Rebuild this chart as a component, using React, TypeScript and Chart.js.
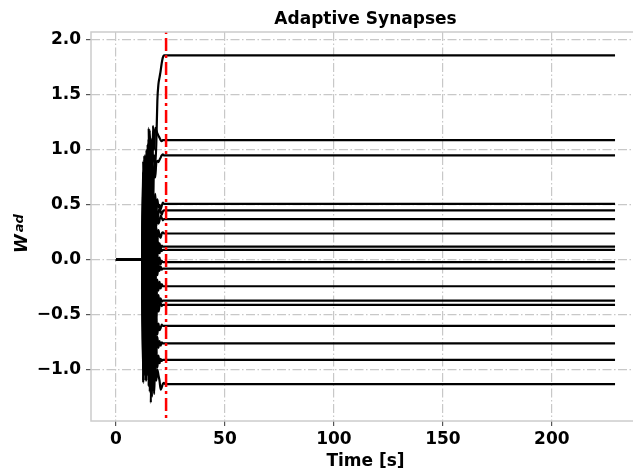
import React, { useEffect, useRef } from "react";
import { Chart, registerables } from "chart.js";

Chart.register(...registerables);

// time axis samples [s]
const times = [0, 12, 12.5, 13, 13.5, 14, 14.5, 15, 15.5, 16, 16.5, 17, 17.5, 18, 18.5, 19, 19.5, 20, 20.5, 21, 21.5, 22, 22.5, 23, 229];

// adaptive synapse weights W^ad (one array per synapse, sampled at `times`)
const w01 = [0, 0, 0.35, -0.45, 0.75, -0.1, 1.05, 0.55, 1.18, 0.85, 1.1, 0.9, 0.95, 0.85, 1.05, 1.45, 1.6, 1.66, 1.72, 1.79, 1.84, 1.86, 1.86, 1.86, 1.86];
const w02 = [0, 0, -0.5, 0.65, -0.75, 0.95, -0.2, 1.2, 0.3, 1.05, 0.65, 1.22, 1.0, 1.2, 1.18, 1.15, 1.13, 1.11, 1.09, 1.08, 1.09, 1.09, 1.09, 1.09, 1.09];
const w03 = [0, 0, 0.55, -0.7, 0.9, -0.45, 0.7, -0.15, 1.0, 0.25, 0.85, 0.45, 0.9, 0.75, 0.88, 0.9, 0.89, 0.91, 0.93, 0.95, 0.96, 0.95, 0.95, 0.95, 0.95];
const w04 = [0, 0, -0.8, 0.45, -1.0, 0.8, -0.6, 0.55, -0.3, 0.7, 0.1, 0.65, 0.3, 0.6, 0.45, 0.55, 0.48, 0.5, 0.46, 0.49, 0.52, 0.51, 0.51, 0.51, 0.51];
const w05 = [0, 0, 0.7, -0.9, 0.5, -0.3, 0.95, -0.55, 0.6, -0.1, 0.7, 0.2, 0.55, 0.3, 0.5, 0.38, 0.42, 0.47, 0.44, 0.41, 0.44, 0.45, 0.45, 0.45, 0.45];
const w06 = [0, 0, -0.3, 0.85, -0.6, 0.4, -0.9, 0.75, -0.4, 0.5, 0.0, 0.6, 0.2, 0.45, 0.3, 0.42, 0.33, 0.36, 0.4, 0.38, 0.36, 0.37, 0.37, 0.37, 0.37];
const w07 = [0, 0, 0.9, -0.35, 0.65, -0.85, 0.3, -0.6, 0.7, -0.2, 0.45, -0.05, 0.35, 0.1, 0.3, 0.18, 0.27, 0.22, 0.2, 0.24, 0.25, 0.24, 0.24, 0.24, 0.24];
const w08 = [0, 0, -0.6, 0.3, -0.95, 0.6, -0.4, 0.9, -0.7, 0.35, -0.3, 0.4, -0.1, 0.25, 0.05, 0.2, 0.09, 0.15, 0.1, 0.13, 0.12, 0.12, 0.12, 0.12, 0.12];
const w09 = [0, 0, 0.45, -1.05, 0.2, -0.5, 0.8, -0.9, 0.4, -0.55, 0.55, -0.2, 0.3, -0.05, 0.18, 0.04, 0.12, 0.06, 0.1, 0.08, 0.09, 0.09, 0.09, 0.09, 0.09];
const w10 = [0, 0, -1.0, 0.6, -0.25, 0.95, -0.75, 0.35, -1.1, 0.6, -0.6, 0.3, -0.3, 0.15, -0.12, 0.05, -0.06, 0.02, -0.04, -0.01, -0.02, -0.02, -0.02, -0.02, -0.02];
const w11 = [0, 0, 0.25, -0.55, 0.95, -1.1, 0.5, -0.35, 0.85, -0.9, 0.3, -0.45, 0.1, -0.25, 0.0, -0.14, -0.05, -0.1, -0.06, -0.09, -0.08, -0.08, -0.08, -0.08, -0.08];
const w12 = [0, 0, -0.4, 0.95, -1.1, 0.35, -0.2, 1.1, -0.85, 0.2, -1.0, 0.1, -0.5, -0.05, -0.35, -0.18, -0.28, -0.2, -0.26, -0.22, -0.24, -0.24, -0.24, -0.24, -0.24];
const w13 = [0, 0, 0.6, -0.2, 0.4, -0.95, 0.85, -1.15, 0.15, -0.7, 0.45, -0.95, -0.1, -0.6, -0.25, -0.45, -0.32, -0.4, -0.35, -0.38, -0.37, -0.37, -0.37, -0.37, -0.37];
const w14 = [0, 0, -1.1, 0.15, -0.8, 0.55, -1.05, 0.25, -0.95, 0.75, -1.2, -0.1, -0.75, -0.3, -0.55, -0.38, -0.47, -0.42, -0.39, -0.42, -0.41, -0.41, -0.41, -0.41, -0.41];
const w15 = [0, 0, 0.1, -0.85, 0.7, -0.6, 0.2, -1.0, 0.55, -1.15, 0.0, -0.9, -0.35, -0.8, -0.5, -0.68, -0.58, -0.64, -0.62, -0.59, -0.6, -0.6, -0.6, -0.6, -0.6];
const w16 = [0, 0, -0.75, 0.05, -0.5, 1.0, -0.95, 0.45, -1.15, -0.2, -1.25, -0.45, -0.95, -0.6, -0.85, -0.7, -0.8, -0.74, -0.78, -0.75, -0.76, -0.76, -0.76, -0.76, -0.76];
const w17 = [0, 0, 0.8, -0.65, 0.1, -1.05, 0.6, -0.8, -0.25, -1.3, -0.4, -1.2, -0.6, -1.05, -0.8, -0.98, -0.87, -0.94, -0.9, -0.92, -0.91, -0.91, -0.91, -0.91, -0.91];
const w18 = [0, 0, -1.12, 0.5, -1.05, 0.2, -0.9, -0.3, -1.2, -0.6, -1.05, -0.85, -1.22, -0.95, -1.1, -1.0, -1.05, -1.1, -1.18, -1.16, -1.13, -1.12, -1.13, -1.13, -1.13];

const synapses = [w01, w02, w03, w04, w05, w06, w07, w08, w09, w10, w11, w12, w13, w14, w15, w16, w17, w18];

// moment the weights are frozen (red dash-dot marker) [s]
const convergenceTime = 23;

const xTicks = [0, 50, 100, 150, 200];
const xTickLabels = ["0", "50", "100", "150", "200"];
const yTicks = [-1, -0.5, 0, 0.5, 1, 1.5, 2];
const yTickLabels = ["\u22121.0", "\u22120.5", "0.0", "0.5", "1.0", "1.5", "2.0"];

const xMin = -11.45;
const xMax = 240.45;
const yMin = -1.466;
const yMax = 2.073;

const chartTitle = "Adaptive Synapses";
const xLabel = "Time [s]";
const yLabelMain = "W";
const yLabelSup = "ad";

const FONT = '"DejaVu Sans", sans-serif';

const decorPlugin = {
  id: "decor",
  afterDatasetsDraw(chart: any) {
    const { ctx, chartArea: a } = chart;
    ctx.save();
    ctx.strokeStyle = "#cccccc";
    ctx.lineWidth = 1.5;
    ctx.strokeRect(a.left, a.top, a.right - a.left, a.bottom - a.top);
    ctx.restore();
  },
  afterDraw(chart: any) {
    const { ctx, chartArea: a } = chart;
    const cx = (a.left + a.right) / 2;
    ctx.save();
    ctx.fillStyle = "#000";
    ctx.textAlign = "center";
    ctx.textBaseline = "alphabetic";
    ctx.font = `bold 17px ${FONT}`;
    ctx.fillText(chartTitle, cx, 23.5);
    ctx.fillText(xLabel, cx, 465.5);
    ctx.translate(27, 253);
    ctx.rotate(-Math.PI / 2);
    ctx.textAlign = "left";
    ctx.font = `italic bold 17px ${FONT}`;
    ctx.fillText(yLabelMain, 0, 0);
    const w = ctx.measureText(yLabelMain).width;
    ctx.font = `italic bold 13px ${FONT}`;
    ctx.fillText(yLabelSup, w + 2, -4);
    ctx.restore();
  },
};

export default function App() {
  const ref = useRef<HTMLCanvasElement | null>(null);

  useEffect(() => {
    if (!ref.current) return;
    const datasets: any[] = [
      {
        label: "convergence",
        data: [
          { x: convergenceTime, y: yMin - 1 },
          { x: convergenceTime, y: yMax + 1 },
        ],
        borderColor: "#ff0000",
        borderWidth: 2.5,
        borderDash: [13, 4, 3, 4],
        pointRadius: 0,
        order: 0,
      },
      ...synapses.map((s, i) => ({
        label: `w${i + 1}`,
        data: times.map((t, j) => ({ x: t, y: s[j] })),
        borderColor: "#000000",
        borderWidth: 2.2,
        pointRadius: 0,
        cubicInterpolationMode: "monotone",
        order: 1,
      })),
    ];

    const tickFont = { family: FONT, weight: "bold" as const, size: 17 };
    const grid = {
      color: "#c8c8c8",
      lineWidth: 1.2,
      tickColor: "#555555",
      tickLength: 5,
      tickWidth: 1.2,
      tickBorderDash: [],
    };

    const chart = new Chart(ref.current, {
      type: "line",
      data: { datasets },
      options: {
        animation: false,
        responsive: false,
        devicePixelRatio: 1,
        layout: { padding: { top: 32, left: 0, right: 0, bottom: 0 } },
        plugins: {
          legend: { display: false },
          tooltip: { enabled: false },
          title: { display: false },
        },
        scales: {
          x: {
            type: "linear",
            min: xMin,
            max: xMax,
            afterBuildTicks: (s: any) => {
              s.ticks = xTicks.map((v) => ({ value: v }));
            },
            afterFit: (s: any) => {
              s.height = 47;
            },
            ticks: {
              font: tickFont,
              color: "#000",
              padding: 3,
              maxRotation: 0,
              autoSkip: false,
              callback: (v: any) => xTickLabels[xTicks.indexOf(Number(v))] ?? "",
            },
            grid,
            border: { display: false, dash: [9, 2.5, 1.5, 2.5] },
          },
          y: {
            type: "linear",
            min: yMin,
            max: yMax,
            afterBuildTicks: (s: any) => {
              s.ticks = yTicks.map((v) => ({ value: v }));
            },
            afterFit: (s: any) => {
              s.width = 91;
            },
            ticks: {
              font: tickFont,
              color: "#000",
              padding: 5,
              autoSkip: false,
              callback: (v: any) => yTickLabels[yTicks.indexOf(Number(v))] ?? "",
            },
            grid,
            border: { display: false, dash: [9, 2.5, 1.5, 2.5] },
          },
        },
      },
      plugins: [decorPlugin],
    });
    return () => chart.destroy();
  }, []);

  return (
    <div
      style={{
        position: "fixed",
        left: 0,
        top: 0,
        width: 633,
        height: 468,
        overflow: "hidden",
        background: "#fff",
      }}
    >
      <canvas ref={ref} width={640} height={468} style={{ width: 640, height: 468, display: "block" }} />
    </div>
  );
}
